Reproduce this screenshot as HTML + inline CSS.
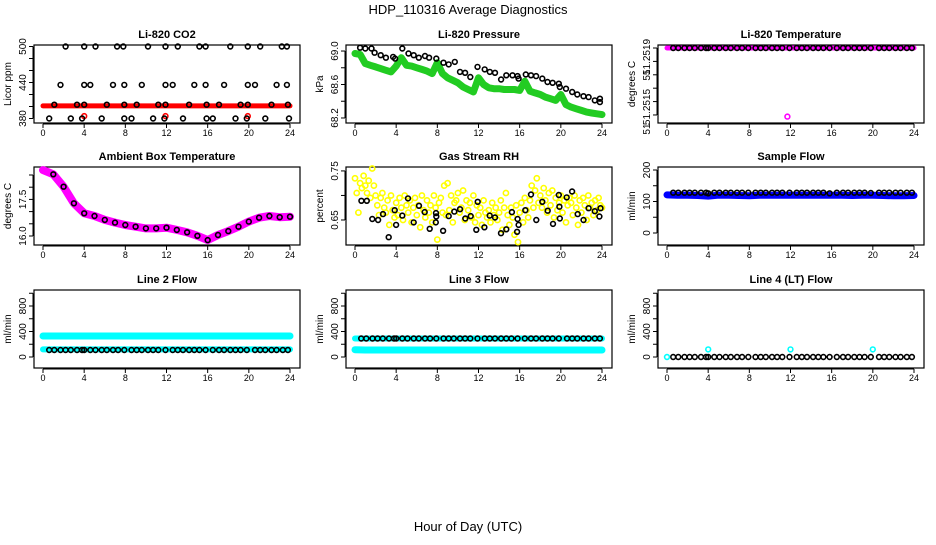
<!DOCTYPE html>
<html><head><meta charset="utf-8"><style>
body{margin:0;background:#fff;}
svg text{font-family:"Liberation Sans",Arial,sans-serif;}
</style></head><body>
<svg id="chart" width="936" height="540" viewBox="0 0 936 540" xmlns="http://www.w3.org/2000/svg">
<text x="468" y="14" font-size="13" text-anchor="middle">HDP_110316  Average Diagnostics</text>
<text x="468" y="531" font-size="13" text-anchor="middle">Hour of Day (UTC)</text>
</svg>
<script>
// ---------- data ----------
const xTicks = [0,4,8,12,16,20,24];
const blackT = [0.6,1.1,1.7,2.2,2.7,3.3,3.8,4.0,4.6,5.1,5.7,6.2,6.8,7.3,7.9,8.6,9.1,9.6,10.2,10.7,11.2,11.9,12.6,13.1,13.6,14.2,14.7,15.2,15.8,16.5,17.1,17.6,18.2,18.7,19.2,19.8,20.6,21.1,21.6,22.2,22.7,23.3,23.8];
const hours = [0,1,2,3,4,5,6,7,8,9,10,11,12,13,14,15,16,17,18,19,20,21,22,23,24];
const halfHours = [0,0.5,1,1.5,2,2.5,3,3.5,4,4.5,5,5.5,6,6.5,7,7.5,8,8.5,9,9.5,10,10.5,11,11.5,12,12.5,13,13.5,14,14.5,15,15.5,16,16.5,17,17.5,18,18.5,19,19.5,20,20.5,21,21.5,22,22.5,23,23.5,24];

// CO2
const co2RedBand = [401,401,401,401,401,401,401,401,401,401,401,401,401,401,401,401,401,401,401,401,401,401,401,401,401];
const co2RedX = [4.0,11.9,19.9];
const co2RedY = [384,384,384];
const co2BlackX = [2.2,4.0,5.1,7.2,7.8,10.2,11.9,13.1,15.2,15.8,18.2,19.9,21.1,23.2,23.7,
  1.7,4.0,4.6,6.8,7.9,9.6,11.9,12.6,14.7,15.8,17.6,19.9,20.6,22.7,23.7,
  1.1,3.3,4.0,6.2,7.9,9.1,11.2,11.9,14.2,15.9,17.1,19.2,19.9,22.2,23.8,
  0.6,2.7,3.8,5.7,7.9,8.6,10.7,11.8,13.6,15.9,16.5,18.7,19.8,21.6,23.9];
const co2BlackY = [500,500,500,500,500,500,500,500,500,500,500,500,500,500,500,
  436,436,436,436,436,436,436,436,436,436,436,436,436,436,436,
  403,403,403,403,403,403,403,403,403,403,403,403,403,403,403,
  380,380,380,380,380,380,380,380,380,380,380,380,380,380,380];

// Pressure
const presGreen = [68.97,68.96,68.85,68.83,68.81,68.79,68.77,68.75,68.82,68.92,68.83,68.82,68.80,68.78,68.76,68.73,68.86,68.73,68.68,68.65,68.62,68.57,68.54,68.51,68.68,68.60,68.56,68.55,68.55,68.54,68.54,68.54,68.53,68.64,68.52,68.50,68.48,68.45,68.43,68.41,68.48,68.36,68.33,68.31,68.29,68.27,68.26,68.25,68.24];
const presBlackX = [0.5,1.0,1.6,1.9,2.5,3.0,3.7,3.9,4.6,5.2,5.7,6.2,6.8,7.2,7.9,8.6,9.1,9.7,10.2,10.7,11.2,11.9,12.6,13.1,13.6,14.2,14.7,15.3,15.8,15.9,16.6,17.1,17.6,18.2,18.7,19.2,19.8,19.9,20.5,21.1,21.6,22.2,22.7,23.3,23.8,23.8];
const presBlackY = [69.04,69.03,69.03,68.98,68.95,68.92,68.93,68.91,69.03,68.97,68.95,68.92,68.94,68.92,68.91,68.86,68.84,68.87,68.75,68.74,68.69,68.81,68.78,68.75,68.74,68.66,68.71,68.71,68.70,68.67,68.72,68.71,68.70,68.67,68.63,68.62,68.61,68.57,68.55,68.51,68.48,68.46,68.45,68.41,68.43,68.39];

// Li-820 temperature
const tempBand = [51.2519,51.2519,51.2519,51.2519,51.2519,51.2519,51.2519,51.2519,51.2519,51.2519,51.2519,51.2519,51.2519,51.2519,51.2519,51.2519,51.2519,51.2519,51.2519,51.2519,51.2519,51.2519,51.2519,51.2519,51.2519];
const tempOutlierX = [11.7];
const tempOutlierY = [51.25149];

// Ambient box temperature
const ambBand = [18.70,18.53,18.02,17.34,16.93,16.82,16.66,16.55,16.45,16.38,16.31,16.31,16.34,16.25,16.15,16.01,15.83,16.04,16.20,16.38,16.59,16.75,16.82,16.77,16.79];

// Gas stream RH
const rhYellow = [.735,.705,.665,.725,.715,.74, .72,.705,.73,.695,.755,.72, .70,.68,.66,.695,.705,.675,
 .665,.69,.64,.70,.67,.655, .685,.66,.695,.675,.65,.70, .68,.665,.69,.645,.675,.695,
 .66,.68,.635,.70,.67,.655, .69,.665,.68,.645,.70,.675, .61,.685,.695,.665,.72,.66,
 .725,.67,.70,.645,.685,.69, .705,.665,.675,.71,.65,.69, .67,.685,.655,.70,.645,.68,
 .66,.675,.64,.69,.665,.655, .67,.645,.685,.66,.675,.65, .665,.69,.63,.675,.705,.66,
 .64,.675,.655,.62,.68,.605, .665,.685,.645,.695,.67,.655, .69,.72,.675,.71,.735,.685,
 .70,.675,.715,.69,.665,.705, .68,.71,.655,.695,.67,.685, .70,.665,.69,.645,.68,.695,
 .685,.66,.70,.675,.64,.69, .665,.695,.68,.65,.70,.675, .685,.66,.69,.67,.695,.68, .675];
const rhBlackX = [0.62,1.15,1.68,2.24,2.72,3.27,3.86,3.99,4.6,5.15,5.7,6.22,6.77,7.26,7.87,7.9,7.85,8.56,9.1,9.65,10.2,10.72,11.24,11.92,11.79,12.57,13.09,13.6,14.19,14.7,15.25,15.8,15.9,15.75,16.55,17.1,17.62,18.2,18.72,19.24,19.8,19.86,19.9,20.57,21.09,21.64,22.2,22.7,23.3,23.75,23.85];
const rhBlackY = [.689,.689,.652,.650,.662,.615,.670,.640,.659,.694,.645,.679,.666,.632,.664,.657,.645,.628,.658,.667,.672,.653,.658,.687,.630,.635,.659,.655,.623,.631,.666,.652,.640,.626,.670,.702,.650,.687,.669,.642,.701,.677,.653,.696,.708,.662,.650,.674,.668,.657,.674];

// Sample flow
const sampleBlue = [121,120,120,119,117,120,120,119,118,120,120,120,120,120,120,120,120,120,119,120,120,119,118,118,119];
const sampleBlack = [128,128,128,128,128,128,128,126,128,128,128,128,128,128,128,128,128,128,128,128,128,128,128,128,128,128,128,128,126,128,128,128,128,128,128,127,128,128,128,128,128,128,128];

// Line 2 flow
const line2CyanHigh = [330,330,330,330,330,330,330,330,330,330,330,330,330,330,330,330,330,330,330,330,330,330,330,330,330];
const line2CyanLow = [120,120,120,120,120,120,120,120,120,120,120,120,120,120,120,120,120,120,120,120,120,120,120,120,120];
const line2Black = [110,110,110,110,110,110,110,110,110,110,110,110,110,110,110,110,110,110,110,110,110,110,110,110,110,110,110,110,110,110,110,110,110,110,110,110,110,110,110,110,110,110,110];

// Line 3 flow
const line3CyanHigh = [290,290,290,290,290,290,290,290,290,290,290,290,290,290,290,290,290,290,290,290,290,290,290,290,290];
const line3CyanLow = [115,110,110,110,110,110,110,110,110,110,110,110,110,110,110,110,110,110,110,110,110,110,110,110,110];
const line3Black = [290,290,290,290,290,290,290,290,290,290,290,290,290,290,290,290,290,290,290,290,290,290,290,290,290,290,290,290,290,290,290,290,290,290,290,290,290,290,290,290,290,290,290];

// Line 4 flow
const line4CyanX = [0,4.0,12.0,20.0];
const line4CyanY = [0,120,120,120];
const line4Black = [0,0,0,0,0,0,0,0,0,0,0,0,0,0,0,0,0,0,0,0,0,0,0,0,0,0,0,0,0,0,0,0,0,0,0,0,0,0,0,0,0,0,0];

// ---------- drawing ----------
const svg = document.getElementById('chart');
const NS = 'http://www.w3.org/2000/svg';
function mk(tag, attrs, parent){const e=document.createElementNS(NS,tag);for(const k in attrs)e.setAttribute(k,attrs[k]);(parent||svg).appendChild(e);return e;}

const rowTops=[45,167,290], H=78;
function panel(col,row,title,ylab,dom,yticks,ylabels,slug){
  const g=mk('g',{});
  
  
  const L=34+312*col, R=300+312*col, T=rowTops[row], B=T+H;
  const x0=43+312*col, x1=290+312*col;
  const xs=v=>x0+(x1-x0)*v/24;
  const ys=v=>B-(v-dom[0])/(dom[1]-dom[0])*H;
  const t=mk('text',{x:(L+R)/2,y:T-7,'font-size':11,'font-weight':'bold','text-anchor':'middle'},g);
  t.textContent=title;
  
  
  const yl=mk('text',{x:0,y:0,'font-size':10,'text-anchor':'middle',transform:`translate(${11+312*col},${T+H/2}) rotate(-90)`},g);
  yl.textContent=ylab;
  
  
  const xa=mk('g',{},g);
  
  
  mk('line',{x1:xs(0),x2:xs(24),y1:B+1,y2:B+1,stroke:'#000','stroke-width':1},xa);
  xTicks.forEach(v=>{
    mk('line',{x1:xs(v),x2:xs(v),y1:B+1,y2:B+5,stroke:'#000'},xa);
    const tx=mk('text',{x:xs(v),y:B+13,'font-size':9,'text-anchor':'middle'},xa);
    tx.textContent=v;
  });
  const ya=mk('g',{},g);
  
  
  mk('line',{x1:L-1,x2:L-1,y1:ys(yticks[0]),y2:ys(yticks[yticks.length-1]),stroke:'#000'},ya);
  yticks.forEach(v=>mk('line',{x1:L-5,x2:L-1,y1:ys(v),y2:ys(v),stroke:'#000'},ya));
  ylabels.forEach(lb=>{
    const yy = lb.y!==undefined? lb.y : ys(lb.v);
    const tx=mk('text',{x:0,y:0,'font-size':10,'text-anchor':'middle',transform:`translate(${L-8},${yy}) rotate(-90)`},ya);
    tx.textContent=lb.t;
  });
  mk('rect',{x:L,y:T,width:R-L,height:H,fill:'none',stroke:'#000','stroke-width':1.2},g);
  const plot=mk('g',{},g);
  
  
  return {g:plot,xs,ys};
}
function band(p,xArr,yArr,color,w,name){
  const d=xArr.map((x,i)=>(i?'L':'M')+p.xs(x).toFixed(1)+','+p.ys(yArr[i]).toFixed(1)).join('');
  const e=mk('path',{d:d,fill:'none',stroke:color,'stroke-width':w,'stroke-linecap':'round','stroke-linejoin':'round'},p.g);
  
  
}
function pts(p,xArr,yArr,color,name,r){
  const grp=mk('g',{},p.g);
  
  
  xArr.forEach((x,i)=>{
    mk('circle',{cx:p.xs(x).toFixed(1),cy:p.ys(yArr[i]).toFixed(1),r:r||2.4,fill:'none',stroke:color,'stroke-width':1.6},grp);
  });
}

let p=panel(0,0,'Li-820 CO2','Licor ppm',[372.5,502.5],[380,400,420,440,460,480,500],[{v:380,t:'380'},{v:440,t:'440'},{v:500,t:'500'}],'co2');
band(p,hours,co2RedBand,'#ff0000',5,'co2-red-series');
pts(p,co2RedX,co2RedY,'#ff0000','co2-red-points');
pts(p,co2BlackX,co2BlackY,'#000','co2-black-points');

p=panel(1,0,'Li-820 Pressure','kPa',[68.14,69.072],[68.2,68.4,68.6,68.8,69.0],[{v:68.2,t:'68.2'},{v:68.6,t:'68.6'},{v:69.0,t:'69.0'}],'pressure');
band(p,halfHours,presGreen,'#22cc22',7,'pressure-green-series');
pts(p,presBlackX,presBlackY,'#000','pressure-black-points');

p=panel(2,0,'Li-820 Temperature','degrees C',[51.251452,51.251918],[51.2515,51.25158,51.25166,51.25174,51.25182,51.2519],
  [{y:57,t:'51.2519'},{y:75,t:'51'},{y:107,t:'51.2515'},{y:129,t:'51'}],'li820-temp');
band(p,hours,tempBand,'#ff00ff',5,'li820-temp-magenta-series');
pts(p,blackT,blackT.map((_,i)=>tempBand[0]),'#000','li820-temp-black-points');
pts(p,tempOutlierX,tempOutlierY,'#ff00ff','li820-temp-outlier');

p=panel(0,1,'Ambient Box Temperature','degrees C',[15.631,18.828],[16.0,16.5,17.0,17.5,18.0,18.5],[{v:16.0,t:'16.0'},{v:17.5,t:'17.5'}],'ambient');
band(p,hours,ambBand,'#ff00ff',8,'ambient-magenta-series');
pts(p,hours.slice(1),ambBand.slice(1),'#000','ambient-black-points');

p=panel(1,1,'Gas Stream RH','percent',[0.599,0.758],[0.65,0.70,0.75],[{v:0.65,t:'0.65'},{v:0.75,t:'0.75'}],'rh');
pts(p,rhYellow.map((_,i)=>i*24/(rhYellow.length-1)),rhYellow,'#ffff00','rh-yellow-points',2.6);
pts(p,rhBlackX,rhBlackY,'#000','rh-black-points');

p=panel(2,1,'Sample Flow','ml/min',[-38.1,209.5],[0,50,100,150,200],[{v:0,t:'0'},{v:100,t:'100'},{v:200,t:'200'}],'sample-flow');
band(p,hours,sampleBlue,'#0000ff',7,'sample-flow-blue-series');
pts(p,blackT,sampleBlack,'#000','sample-flow-black-points');

p=panel(0,2,'Line 2 Flow','ml/min',[-172.5,1051],[0,200,400,600,800,1000],[{v:0,t:'0'},{v:400,t:'400'},{v:800,t:'800'}],'line2');
band(p,hours,line2CyanHigh,'#00ffff',7,'line2-cyan-high-series');
band(p,hours,line2CyanLow,'#00ffff',6,'line2-cyan-low-series');
pts(p,blackT,line2Black,'#000','line2-black-points');

p=panel(1,2,'Line 3 Flow','ml/min',[-172.5,1051],[0,200,400,600,800,1000],[{v:0,t:'0'},{v:400,t:'400'},{v:800,t:'800'}],'line3');
band(p,hours,line3CyanHigh,'#00ffff',6,'line3-cyan-high-series');
band(p,hours,line3CyanLow,'#00ffff',7,'line3-cyan-low-series');
pts(p,blackT,line3Black,'#000','line3-black-points');

p=panel(2,2,'Line 4 (LT) Flow','ml/min',[-172.5,1051],[0,200,400,600,800,1000],[{v:0,t:'0'},{v:400,t:'400'},{v:800,t:'800'}],'line4');
pts(p,blackT,line4Black,'#000','line4-black-points');
pts(p,line4CyanX,line4CyanY,'#00ffff','line4-cyan-points');
</script>
</body></html>
